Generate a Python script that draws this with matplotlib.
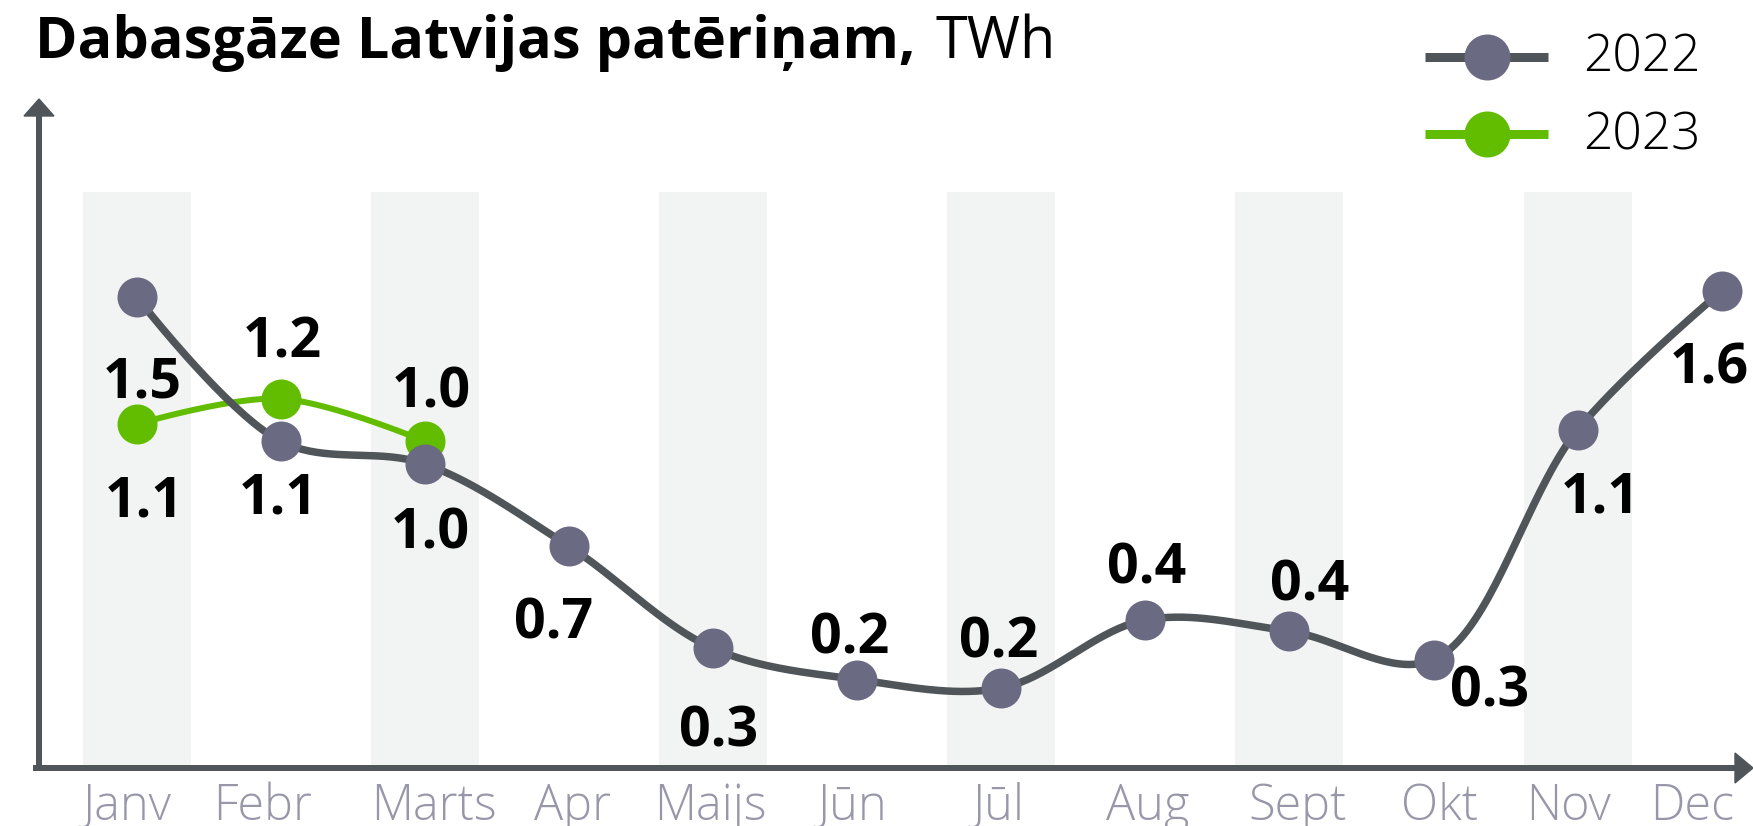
import numpy as np
import matplotlib
matplotlib.use("Agg")
import matplotlib.pyplot as plt
from matplotlib.lines import Line2D
from matplotlib.patches import Polygon

W, H = 1753, 826

months = ['Janv', 'Febr', 'Marts', 'Apr', 'Maijs', 'Jūn', 'Jūl', 'Aug', 'Sept', 'Okt', 'Nov', 'Dec']
vals_2022 = [1.58, 1.07, 0.99, 0.70, 0.34, 0.23, 0.20, 0.44, 0.40, 0.30, 1.11, 1.60]
vals_2023 = [1.13, 1.22, 1.07]
labels_2022 = ['1.5', '1.1', '1.0', '0.7', '0.3', '0.2', '0.2', '0.4', '0.4', '0.3', '1.1', '1.6']
labels_2023 = ['1.1', '1.2', '1.0']

# label offsets from point centre in pixels (dx, dy up), baseline anchored
off_2022 = [(6, -101), (-2, -72), (6, -85), (-15, -92), (6, -98), (-7, 26),
            (-3, 31), (1, 36), (20, 31), (56, -47), (23, -83), (-12, -93)]
off_2023 = [(8, -92), (2, 41), (7, 34)]
tick_nudge = [-10, -18, 9, 4, -3, -5, -3, 2, 8, 6, -9, -30]

C_LINE = '#4f5559'
C_DOT = '#6b6a83'
C_GREEN = '#62bd00'
C_AXIS = '#50555a'
C_BAND = '#f2f4f3'
C_TICK = '#9897aa'

PT = 0.72  # px -> pt at dpi 100


def catmull_rom(px, py, alpha=0.5, n=40):
    # centripetal Catmull-Rom (same as d3.curveCatmullRom), in pixel space
    p = np.column_stack([px, py]).astype(float)
    out = [p[:1]]
    k = len(p)
    for i in range(k - 1):
        p1, p2 = p[i], p[i + 1]
        l12 = np.hypot(*(p2 - p1))
        l12a, l12_2a = l12 ** alpha, l12 ** (2 * alpha)
        c1, c2 = p1.copy(), p2.copy()
        if i > 0:
            p0 = p[i - 1]
            l01 = np.hypot(*(p1 - p0))
            l01a, l01_2a = l01 ** alpha, l01 ** (2 * alpha)
            a = 2 * l01_2a + 3 * l01a * l12a + l12_2a
            m = 3 * l01a * (l01a + l12a)
            c1 = (p1 * a - p0 * l12_2a + p2 * l01_2a) / m
        if i + 2 < k:
            p3 = p[i + 2]
            l23 = np.hypot(*(p3 - p2))
            l23a, l23_2a = l23 ** alpha, l23 ** (2 * alpha)
            b = 2 * l23_2a + 3 * l23a * l12a + l12_2a
            m = 3 * l23a * (l23a + l12a)
            c2 = (p2 * b + p1 * l23_2a - p3 * l12_2a) / m
        t = np.linspace(0, 1, n)[1:, None]
        seg = (1 - t) ** 3 * p1 + 3 * (1 - t) ** 2 * t * c1 + 3 * (1 - t) * t ** 2 * c2 + t ** 3 * p2
        out.append(seg)
    return np.vstack(out)


def smooth_line(ax, xs, ys, **kw):
    pix = ax.transData.transform(np.column_stack([xs, ys]))
    curve = catmull_rom(pix[:, 0], pix[:, 1])
    data = ax.transData.inverted().transform(curve)
    return ax.plot(data[:, 0], data[:, 1], **kw)


fig = plt.figure(figsize=(W / 100, H / 100), dpi=100)

ax_left, ax_right, ax_bot, ax_top = 39, 1752, 768, 99
ax = fig.add_axes([ax_left / W, 1 - ax_bot / H, (ax_right - ax_left) / W, (ax_bot - ax_top) / H])
ax.set_xlim(-0.677, 11.21)
y0, y1 = -0.082, 2.277
ax.set_ylim(y0, y1)
ax.axis('off')

x = np.arange(len(months))

# shaded bands on every second month
band_top = 1.949
ax.bar(x[::2], band_top - y0, bottom=y0, width=0.75, color=C_BAND, zorder=0)

# 2023 series
x23 = x[:len(vals_2023)]
smooth_line(ax, x23, vals_2023, color=C_GREEN, lw=6 * PT, solid_capstyle='round', zorder=2)
ax.plot(x23, vals_2023, 'o', ms=40 * PT, color=C_GREEN, mew=0, zorder=3)

# 2022 series
smooth_line(ax, x, vals_2022, color=C_LINE, lw=7.5 * PT, solid_capstyle='round', zorder=4)
ax.plot(x, vals_2022, 'o', ms=40 * PT, color=C_DOT, mew=0, zorder=5)

lab_font = dict(family=['Open Sans', 'DejaVu Sans'], fontsize=40, fontweight='bold', color='black')
for xi, v, lab, (dx, dy) in zip(x, vals_2022, labels_2022, off_2022):
    ax.annotate(lab, (xi, v), xytext=(dx * PT, dy * PT), textcoords='offset points',
                ha='center', va='baseline', zorder=6, annotation_clip=False, **lab_font)
for xi, v, lab, (dx, dy) in zip(x23, vals_2023, labels_2023, off_2023):
    ax.annotate(lab, (xi, v), xytext=(dx * PT, dy * PT), textcoords='offset points',
                ha='center', va='baseline', zorder=6, annotation_clip=False, **lab_font)

# month labels
for xi, m, nd in zip(x, months, tick_nudge):
    ax.annotate(m, (xi, y0), xytext=(nd * PT, -52 * PT), textcoords='offset points',
                ha='center', va='baseline', fontsize=35, color=C_TICK,
                family=['Open Sans', 'DejaVu Sans'], fontweight='light', annotation_clip=False)


def fx(px):
    return px / W


def fy(py):
    return 1 - py / H


# axes with arrow heads
fig.add_artist(Line2D([fx(39), fx(39)], [fy(768), fy(112)], color=C_AXIS, lw=6 * PT))
fig.add_artist(Line2D([fx(36), fx(1738)], [fy(768), fy(768)], color=C_AXIS, lw=6 * PT))
fig.add_artist(Polygon([[fx(24), fy(116)], [fx(54), fy(116)], [fx(39), fy(99)]],
                       closed=True, color=C_AXIS, transform=fig.transFigure))
fig.add_artist(Polygon([[fx(1735), fy(753)], [fx(1735), fy(783)], [fx(1753), fy(768)]],
                       closed=True, color=C_AXIS, transform=fig.transFigure))

# legend
for yy, lc, mc, name in [(57, C_LINE, C_DOT, '2022'), (134, C_GREEN, C_GREEN, '2023')]:
    fig.add_artist(Line2D([fx(1425), fx(1548)], [fy(yy), fy(yy)], color=lc, lw=9 * PT,
                          solid_capstyle='butt'))
    fig.add_artist(Line2D([fx(1487)], [fy(yy)], marker='o', ms=46 * PT, color=mc, mew=0))
    fig.text(fx(1583), fy(yy + 15), name, fontsize=37, color='black', va='baseline',
             family=['Open Sans', 'DejaVu Sans'], fontweight='light')

# title
t1 = fig.text(fx(35), fy(58), 'Dabasgāze Latvijas patēriņam,', fontsize=41.5, fontweight='bold',
              family=['Open Sans', 'DejaVu Sans'], va='baseline')
fig.canvas.draw()
bb = t1.get_window_extent()
fig.text((bb.x1 + 20) / W, fy(58), 'TWh', fontsize=41.5, fontweight='normal',
         family=['Open Sans', 'DejaVu Sans'], va='baseline')

fig.savefig('out.png', dpi=100)
